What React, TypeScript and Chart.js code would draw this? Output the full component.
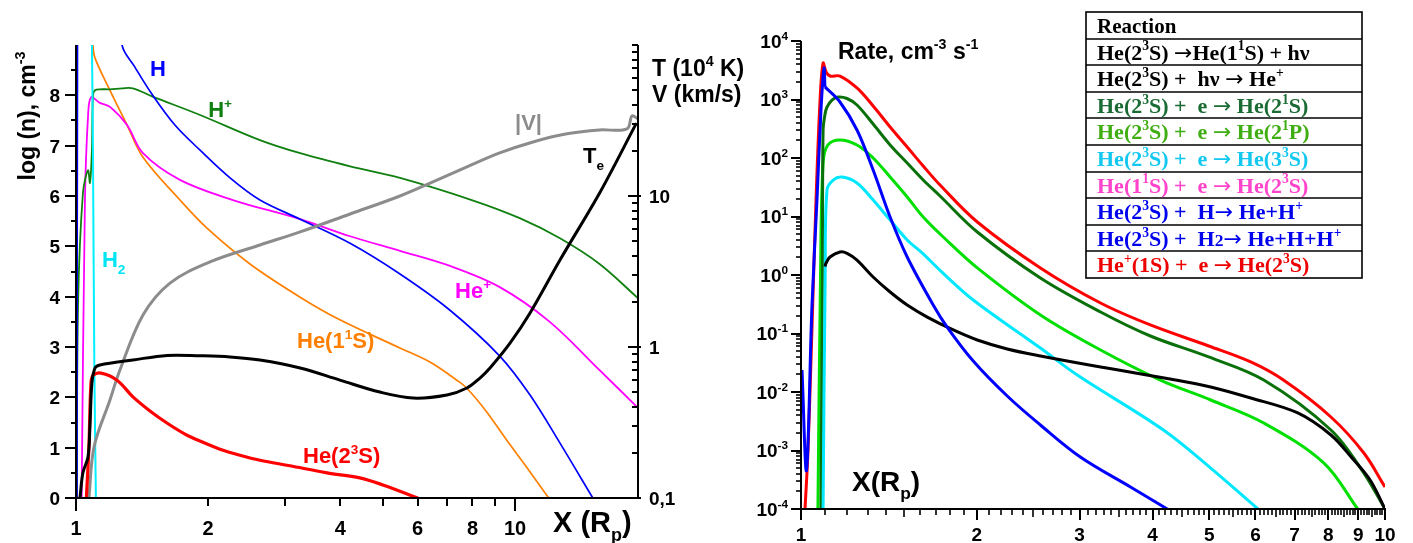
import React, { useEffect, useRef } from "react";
import { Chart, registerables } from "chart.js";

Chart.register(...registerables);

const FONT = '"Liberation Sans", Arial, Helvetica, sans-serif';
const SERIF = '"Liberation Serif", "Times New Roman", serif';
const ARROW_FONT = '"DejaVu Sans", "Liberation Sans", sans-serif';

// ================= LEFT PANEL: log(n) [cm^-3], T (10^4 K), |V| (km/s) vs X (Rp) =================
const H_X = [1.005, 1.008, 1.012, 1.2, 1.273, 1.362, 1.49, 1.68, 1.917, 2.243, 2.624, 3.24, 4.21, 5.47, 7.11, 9.23, 10.81, 12.66, 15.04];
const H_Y = [0, 9.5, 11, 11, 9.0, 8.56, 8.02, 7.41, 6.91, 6.36, 5.92, 5.54, 5.06, 4.45, 3.73, 2.82, 2.05, 1.09, 0];

const HP_X = [1.004, 1.011, 1.037, 1.065, 1.076, 1.087, 1.093, 1.105, 1.134, 1.195, 1.273, 1.348, 1.49, 1.917, 2.624, 3.24, 4.21, 5.47, 7.97, 10.25, 12.66, 15.58, 19.06];
const HP_Y = [0, 3.87, 6.06, 6.51, 6.26, 6.91, 8.0, 8.1, 8.12, 8.12, 8.14, 8.14, 7.98, 7.61, 7.11, 6.85, 6.59, 6.36, 5.92, 5.56, 5.16, 4.65, 3.97];

const HEP_X = [1.03, 1.048, 1.065, 1.082, 1.134, 1.195, 1.307, 1.421, 1.725, 2.277, 3.24, 4.21, 5.47, 7.11, 9.23, 12.0, 15.58, 19.06];
const HEP_Y = [0, 5.92, 7.57, 7.96, 7.85, 7.77, 7.41, 6.85, 6.32, 5.92, 5.54, 5.2, 4.91, 4.61, 4.19, 3.5, 2.54, 1.79];

const HE11S_X = [1.003, 1.006, 1.08, 1.093, 1.105, 1.195, 1.307, 1.421, 1.725, 1.988, 2.49, 3.24, 3.99, 5.47, 6.4, 7.37, 7.77, 8.62, 9.57, 10.7, 11.93];
const HE11S_Y = [0, 10.5, 10.5, 9.0, 8.74, 8.1, 7.41, 6.77, 5.92, 5.36, 4.65, 3.99, 3.54, 2.98, 2.7, 2.34, 2.18, 1.71, 1.15, 0.576, 0];

const H2_X = [1.08, 1.087, 1.093, 1.101, 1.11];
const H2_Y = [10, 9.0, 6.9, 2.6, 0];

const HE23S_X = [1.056, 1.07, 1.082, 1.095, 1.14, 1.24, 1.348, 1.474, 1.611, 1.771, 1.917, 2.128, 2.362, 2.624, 3.07, 3.73, 4.43, 5.0, 6.01];
const HE23S_Y = [0, 1.0, 2.3, 2.44, 2.48, 2.34, 2.01, 1.73, 1.49, 1.27, 1.13, 0.97, 0.85, 0.75, 0.64, 0.5, 0.4, 0.26, 0];

const TE_X = [1.021, 1.037, 1.065, 1.076, 1.087, 1.105, 1.134, 1.348, 1.611, 1.917, 2.243, 2.624, 3.24, 3.99, 4.92, 5.86, 7.0, 7.77, 8.32, 8.77, 9.74, 10.82, 12.66, 15.62, 18.9];
const TE_Y = [0.1, 0.147, 0.187, 0.3, 0.578, 0.726, 0.76, 0.82, 0.88, 0.875, 0.86, 0.82, 0.726, 0.604, 0.503, 0.459, 0.481, 0.535, 0.623, 0.726, 1.06, 1.68, 3.77, 10.6, 30.4];

const V_X = [1.07, 1.1, 1.195, 1.259, 1.421, 1.637, 2.019, 2.624, 3.24, 4.21, 5.47, 6.5, 7.77, 9.23, 10.99, 13.13, 15.58, 17.99, 18.47, 19.06];
const V_Y = [0.1, 0.22, 0.446, 0.704, 1.63, 2.65, 3.66, 4.74, 5.78, 7.6, 10.0, 12.4, 15.6, 19.3, 22.8, 25.8, 27.4, 27.8, 33.9, 32.4];

const LEFT_X_LABELED = [1, 2, 4, 6, 8, 10];
const LEFT_X_MINOR = [3, 5, 7, 9];
const LEFT_Y_LABELS = ["0", "1", "2", "3", "4", "5", "6", "7", "8"];
const LEFT_Y2_LABELED = [0.1, 1, 10];
const LEFT_Y2_LABELS = ["0,1", "1", "10"];

// ================= RIGHT PANEL: rates [cm^-3 s^-1] vs X (Rp) =================
const REACTIONS = [
  "He(2^{3}S) \u2192He(1^{1}S) + h\u03bd",
  "He(2^{3}S) +  h\u03bd \u2192 He^{+}",
  "He(2^{3}S) +  e \u2192 He(2^{1}S)",
  "He(2^{3}S) +  e \u2192 He(2^{1}P)",
  "He(2^{3}S) +  e \u2192 He(3^{3}S)",
  "He(1^{1}S) +  e \u2192 He(2^{3}S)",
  "He(2^{3}S) +  H\u2192 He+H^{+}",
  "He(2^{3}S) +  H~{2}\u2192 He+H+H^{+}",
  "He^{+}(1S) +  e \u2192 He(2^{3}S)",
];
const REACTION_COLORS = ["#000000", "#000000", "#1b6b34", "#3fae12", "#12c8f0", "#ff44cc", "#0000ee", "#0000ee", "#ee0000"];

const R_RAD_X = [1.099, 1.104, 1.121, 1.166, 1.199, 1.247, 1.329, 1.421, 1.52, 1.645, 1.823, 2.004, 2.255, 2.57, 3.258, 4.286, 5.03, 5.89, 7.09, 8.08, 8.75, 9.43, 10];
const R_RAD_Y = [1.4, 1.6, 2.03, 2.47, 2.35, 1.8, 0.925, 0.512, 0.307, 0.191, 0.115, 0.0774, 0.0543, 0.0412, 0.0267, 0.0167, 0.0122, 0.00789, 0.00438, 0.00184, 7.74e-4, 3.13e-4, 1e-4];

const R_PHOT_X: number[] = [];
const R_PHOT_Y: number[] = [];

const R_21S_X = [1.082, 1.088, 1.091, 1.099, 1.108, 1.13, 1.157, 1.199, 1.247, 1.329, 1.421, 1.52, 1.619, 1.73, 2.004, 2.57, 3.258, 3.965, 4.99, 6.2, 8.08, 9.2, 10];
const R_21S_Y = [1e-4, 1.0, 301, 550, 745, 980, 1100, 1040, 805, 381, 167, 82, 42, 22.4, 5.43, 0.889, 0.233, 0.0906, 0.0397, 0.016, 0.00224, 4.12e-4, 1e-4];

const R_21P_X = [1.069, 1.08, 1.091, 1.112, 1.166, 1.247, 1.329, 1.421, 1.52, 1.619, 1.752, 2.004, 2.57, 3.258, 4.123, 5.03, 6.2, 7.86, 8.98];
const R_21P_Y = [1e-4, 1.0, 82, 167, 203, 167, 100, 47.3, 21.6, 9.8, 4.46, 1.32, 0.207, 0.0522, 0.016, 0.0073, 0.00295, 6.1e-4, 1e-4];

const R_33S_X = [1.091, 1.1, 1.108, 1.135, 1.176, 1.247, 1.329, 1.421, 1.52, 1.619, 1.73, 1.972, 2.57, 2.972, 4.174, 5.03, 6.06];
const R_33S_Y = [1e-4, 1.0, 28.4, 42, 47.3, 37.4, 19.1, 8.7, 3.97, 2.3, 1.2, 0.374, 0.0565, 0.0195, 0.00224, 5.0e-4, 1e-4];

const R_11S_X: number[] = [];
const R_11S_Y: number[] = [];

const R_H_X = [1.099, 1.166, 1.247, 1.329, 1.421, 1.52, 1.684, 1.779, 1.972, 2.255, 2.57, 3.008, 3.666, 4.238];
const R_H_Y = [1640, 906, 301, 62.4, 9.8, 2.03, 0.307, 0.129, 0.0339, 0.00855, 0.00273, 7.74e-4, 2.38e-4, 1e-4];

const R_H2_X = [1.004, 1.022, 1.044, 1.065, 1.082, 1.095, 1.099];
const R_H2_Y = [0.0238, 4.6e-4, 0.284, 19.1, 662, 3450, 1640];

const R_REC_X = [1.016, 1.028, 1.044, 1.061, 1.078, 1.091, 1.104, 1.121, 1.166, 1.247, 1.329, 1.421, 1.52, 1.619, 1.73, 2.004, 2.57, 3.258, 3.965, 4.99, 5.89, 6.7, 8.08, 9.2, 10];
const R_REC_Y = [1e-4, 1e-3, 0.115, 19, 980, 4200, 2950, 2520, 2520, 1574, 774, 339, 154, 73, 34.5, 8.05, 1.32, 0.332, 0.14, 0.0611, 0.0326, 0.016, 0.00374, 9.06e-4, 2.38e-4];

const RIGHT_X_LABELS = ["1", "2", "3", "4", "5", "6", "7", "8", "9", "10"];
const RIGHT_Y_EXPONENTS = [-4, -3, -2, -1, 0, 1, 2, 3, 4];

// ================= helpers =================
type Seg = { t: string; m: number };
function parseRich(s: string): Seg[] {
  const out: Seg[] = [];
  let buf = "";
  let i = 0;
  const flush = () => {
    if (buf) {
      out.push({ t: buf, m: 0 });
      buf = "";
    }
  };
  while (i < s.length) {
    const c = s[i];
    if ((c === "^" || c === "_" || c === "~") && s[i + 1] === "{") {
      flush();
      const end = s.indexOf("}", i + 2);
      out.push({ t: s.slice(i + 2, end), m: c === "^" ? 1 : c === "_" ? -1 : 2 });
      i = end + 1;
    } else if (c === "\u2192") {
      flush();
      out.push({ t: c, m: 3 });
      i++;
    } else {
      buf += c;
      i++;
    }
  }
  flush();
  return out;
}

function drawRich(
  ctx: CanvasRenderingContext2D,
  s: string,
  x: number,
  y: number,
  size: number,
  family: string,
  color: string,
  align: "left" | "center" | "right" = "left"
) {
  const segs = parseRich(s);
  const szOf = (m: number) => (m === 1 || m === -1 ? size * 0.62 : m === 2 ? size * 0.8 : size);
  const dyOf = (m: number) => (m === 1 ? -size * 0.42 : m === -1 ? size * 0.3 : 0);
  const famOf = (m: number) => (m === 3 ? ARROW_FONT : family);
  const fontOf = (m: number) => `${m === 3 ? "" : "bold "}${szOf(m)}px ${famOf(m)}`;
  let w = 0;
  for (const g of segs) {
    ctx.font = fontOf(g.m);
    w += ctx.measureText(g.t).width;
  }
  let cx = align === "left" ? x : align === "center" ? x - w / 2 : x - w;
  ctx.fillStyle = color;
  ctx.textAlign = "left";
  ctx.textBaseline = "alphabetic";
  for (const g of segs) {
    ctx.font = fontOf(g.m);
    ctx.fillText(g.t, cx, y + dyOf(g.m));
    cx += ctx.measureText(g.t).width;
  }
}

type Tick = { v: number; len: number; out?: number; w?: number };
type AxisSpec = {
  scale: string;
  side: "left" | "right" | "bottom";
  ticks: Tick[];
  labels: { v: number; text: string }[];
  size: number;
  gap: number;
};

function drawAxis(chart: any, ctx: CanvasRenderingContext2D, s: AxisSpec) {
  const a = chart.chartArea;
  const sc = chart.scales[s.scale];
  ctx.strokeStyle = "#000";
  ctx.lineWidth = 2;
  ctx.beginPath();
  if (s.side === "bottom") {
    ctx.moveTo(a.left - 1, a.bottom);
    ctx.lineTo(a.right + 1, a.bottom);
  } else if (s.side === "left") {
    ctx.moveTo(a.left, a.top);
    ctx.lineTo(a.left, a.bottom);
  } else {
    ctx.moveTo(a.right, a.top);
    ctx.lineTo(a.right, a.bottom + 1);
  }
  ctx.stroke();
  for (const t of s.ticks) {
    const p = Math.round(sc.getPixelForValue(t.v));
    ctx.lineWidth = t.w ?? 2;
    ctx.beginPath();
    if (s.side === "bottom") {
      ctx.moveTo(p, a.bottom);
      ctx.lineTo(p, a.bottom + t.len);
    } else if (s.side === "left") {
      ctx.moveTo(a.left - t.len, p);
      ctx.lineTo(a.left, p);
    } else {
      ctx.moveTo(a.right - t.len, p);
      ctx.lineTo(a.right + (t.out || 0), p);
    }
    ctx.stroke();
  }
  for (const l of s.labels) {
    const p = sc.getPixelForValue(l.v);
    if (s.side === "bottom") drawRich(ctx, l.text, p, a.bottom + s.gap, s.size, FONT, "#000", "center");
    else if (s.side === "left") drawRich(ctx, l.text, a.left - s.gap, p + s.size * 0.36, s.size, FONT, "#000", "right");
    else drawRich(ctx, l.text, a.right + s.gap, p + s.size * 0.36, s.size, FONT, "#000", "left");
  }
}

function series(xs: number[], ys: number[], color: string, width: number, axis = "y") {
  return {
    data: xs.map((x, i) => ({ x, y: ys[i] })),
    borderColor: color,
    backgroundColor: color,
    borderWidth: width,
    pointRadius: 0,
    fill: false,
    yAxisID: axis,
    tension: 0.35,
  };
}

// text labels placed in data coordinates (x, left-axis y)
const LEFT_TEXT = [
  { text: "H", x: 1.474, y: 8.38, color: "#0000ff" },
  { text: "H^{+}", x: 2.0, y: 7.57, color: "#108010" },
  { text: "|V|", x: 10.0, y: 7.31, color: "#8c8c8c" },
  { text: "T_{e}", x: 14.29, y: 6.65, color: "#000000" },
  { text: "He^{+}", x: 7.3, y: 3.97, color: "#ff00ff" },
  { text: "H_{2}", x: 1.146, y: 4.59, color: "#00e5f5" },
  { text: "He(1^{1}S)", x: 3.187, y: 2.98, color: "#ff8000" },
  { text: "He(2^{3}S)", x: 3.289, y: 0.695, color: "#ff0000" },
];

function leftConfig(): any {
  const xTicks: Tick[] = [
    ...LEFT_X_LABELED.map((v) => ({ v, len: v === 1 || v === 10 ? 13 : 8 })),
    ...LEFT_X_MINOR.map((v) => ({ v, len: 8 })),
  ];
  const yTicks: Tick[] = [];
  LEFT_Y_LABELS.forEach((_, i) => {
    yTicks.push({ v: i, len: 11 });
    yTicks.push({ v: i + 0.5, len: 5 });
  });
  const y2Ticks: Tick[] = [];
  [0.1, 1, 10].forEach((d) => {
    y2Ticks.push({ v: d, len: 10, out: 3 });
    for (let k = 2; k <= 9; k++) y2Ticks.push({ v: d * k, len: 6 });
  });
  y2Ticks.push({ v: 100, len: 6 });

  const specs: AxisSpec[] = [
    { scale: "x", side: "bottom", ticks: xTicks, labels: LEFT_X_LABELED.map((v) => ({ v, text: String(v) })), size: 20, gap: 37 },
    { scale: "y", side: "left", ticks: yTicks, labels: LEFT_Y_LABELS.map((t, i) => ({ v: i, text: t })), size: 19, gap: 16 },
    { scale: "y2", side: "right", ticks: y2Ticks, labels: LEFT_Y2_LABELED.map((v, i) => ({ v, text: LEFT_Y2_LABELS[i] })), size: 19, gap: 11 },
  ];

  const plugin = {
    id: "leftAxes",
    afterDraw(chart: any) {
      const ctx = chart.ctx as CanvasRenderingContext2D;
      const a = chart.chartArea;
      ctx.save();
      drawAxis(chart, ctx, specs[0]);
      drawAxis(chart, ctx, specs[2]);
      drawAxis(chart, ctx, specs[1]);
      for (const t of LEFT_TEXT) {
        const px = chart.scales.x.getPixelForValue(t.x);
        const py = chart.scales.y.getPixelForValue(t.y);
        drawRich(ctx, t.text, px, py, 22, FONT, t.color, "left");
      }
      drawRich(ctx, "X (R_{p})", a.right - 85, a.bottom + 34, 29, FONT, "#000", "left");
      drawRich(ctx, "T (10^{4} K)", a.right + 14, a.top + 31, 23, FONT, "#000", "left");
      drawRich(ctx, "V (km/s)", a.right + 14, a.top + 57, 23, FONT, "#000", "left");
      ctx.save();
      ctx.translate(35, 116);
      ctx.rotate(-Math.PI / 2);
      drawRich(ctx, "log (n), cm^{-3}", 0, 0, 23, FONT, "#000", "center");
      ctx.restore();
      ctx.restore();
    },
  };

  return {
    type: "line",
    data: {
      datasets: [
        series(TE_X, TE_Y, "#000000", 3, "y2"),
        series(HE23S_X, HE23S_Y, "#ff0000", 3.2),
        series(V_X, V_Y, "#8c8c8c", 3, "y2"),
        series(H2_X, H2_Y, "#00f0ff", 2),
        series(H_X, H_Y, "#0000ff", 1.7),
        series(HP_X, HP_Y, "#108010", 1.8),
        series(HEP_X, HEP_Y, "#ff00ff", 1.8),
        series(HE11S_X, HE11S_Y, "#ff8000", 1.7),
      ],
    },
    options: {
      responsive: false,
      animation: false,
      devicePixelRatio: 1,
      events: [],
      layout: { padding: { left: 76, right: 107, top: 45, bottom: 45 } },
      plugins: { legend: { display: false }, tooltip: { enabled: false }, title: { display: false } },
      elements: { point: { radius: 0 } },
      scales: {
        x: { type: "logarithmic", min: 1, max: 19.06, display: false },
        y: { type: "linear", min: 0, max: 9, display: false },
        y2: { type: "logarithmic", min: 0.1, max: 100, display: false, position: "right" },
      },
    },
    plugins: [plugin],
  };
}

function rightConfig(): any {
  const xTicks: Tick[] = [];
  for (let i = 10; i <= 100; i++) {
    if (i % 10 === 0) xTicks.push({ v: i / 10, len: 11 });
    else xTicks.push({ v: i / 10, len: i % 5 === 0 ? 8 : 6, w: 1.6 });
  }
  const yTicks: Tick[] = [];
  RIGHT_Y_EXPONENTS.forEach((e) => {
    const d = Math.pow(10, e);
    yTicks.push({ v: d, len: 10 });
    if (e < 4) for (let k = 2; k <= 9; k++) yTicks.push({ v: d * k, len: 5, w: 1.6 });
  });
  const specs: AxisSpec[] = [
    { scale: "x", side: "bottom", ticks: xTicks, labels: RIGHT_X_LABELS.map((t, i) => ({ v: i + 1, text: t })), size: 19, gap: 32 },
    { scale: "y", side: "left", ticks: yTicks, labels: RIGHT_Y_EXPONENTS.map((e) => ({ v: Math.pow(10, e), text: `10^{${e}}` })), size: 19, gap: 13 },
  ];

  const plugin = {
    id: "rightAxes",
    afterDraw(chart: any) {
      const ctx = chart.ctx as CanvasRenderingContext2D;
      const a = chart.chartArea;
      ctx.save();
      drawAxis(chart, ctx, specs[0]);
      drawAxis(chart, ctx, specs[1]);
      drawRich(ctx, "Rate, cm^{-3} s^{-1}", a.left + 37, a.top + 18, 23, FONT, "#000", "left");
      drawRich(ctx, "X(R_{p})", a.left + 51, a.bottom - 18, 28, FONT, "#000", "left");

      // reaction table
      const L = 341, R = 617, T = 12, HH = 26.6;
      ctx.fillStyle = "#fff";
      ctx.fillRect(L, T, R - L, HH * 10);
      ctx.strokeStyle = "#000";
      ctx.lineWidth = 1.6;
      ctx.strokeRect(L, T, R - L, HH * 10);
      for (let i = 1; i < 10; i++) {
        ctx.beginPath();
        ctx.moveTo(L, Math.round(T + i * HH));
        ctx.lineTo(R, Math.round(T + i * HH));
        ctx.stroke();
      }
      drawRich(ctx, "Reaction", L + 11, T + 21, 21, SERIF, "#000", "left");
      REACTIONS.forEach((r, i) => drawRich(ctx, r, L + 11, T + (i + 1) * HH + 21, 22, SERIF, REACTION_COLORS[i], "left"));
      ctx.restore();
    },
  };

  return {
    type: "line",
    data: {
      datasets: [
        series(R_H2_X, R_H2_Y, "#0000ff", 3),
        series(R_H_X, R_H_Y, "#0000ff", 3),
        series(R_RAD_X, R_RAD_Y, "#000000", 3),
        series(R_33S_X, R_33S_Y, "#00e8ff", 3),
        series(R_REC_X, R_REC_Y, "#ff0000", 3),
        series(R_21S_X, R_21S_Y, "#0a700a", 3),
        series(R_21P_X, R_21P_Y, "#00e000", 3),
        series(R_11S_X, R_11S_Y, "#ff44cc", 3),
        series(R_PHOT_X, R_PHOT_Y, "#000000", 3),
      ],
    },
    options: {
      responsive: false,
      animation: false,
      devicePixelRatio: 1,
      events: [],
      layout: { padding: { left: 56, right: 28, top: 41, bottom: 34 } },
      plugins: { legend: { display: false }, tooltip: { enabled: false }, title: { display: false } },
      elements: { point: { radius: 0 } },
      scales: {
        x: { type: "logarithmic", min: 1, max: 10, display: false },
        y: { type: "logarithmic", min: 1e-4, max: 1e4, display: false },
      },
    },
    plugins: [plugin],
  };
}

export default function App() {
  const leftRef = useRef<HTMLCanvasElement>(null);
  const rightRef = useRef<HTMLCanvasElement>(null);
  useEffect(() => {
    const c1 = new Chart(leftRef.current as HTMLCanvasElement, leftConfig());
    const c2 = new Chart(rightRef.current as HTMLCanvasElement, rightConfig());
    return () => {
      c1.destroy();
      c2.destroy();
    };
  }, []);
  return (
    <div style={{ position: "absolute", left: 0, top: 0, width: 1413, height: 543, background: "#fff", overflow: "hidden" }}>
      <canvas ref={leftRef} width={745} height={543} style={{ position: "absolute", left: 0, top: 0 }} />
      <canvas ref={rightRef} width={668} height={543} style={{ position: "absolute", left: 745, top: 0 }} />
    </div>
  );
}
